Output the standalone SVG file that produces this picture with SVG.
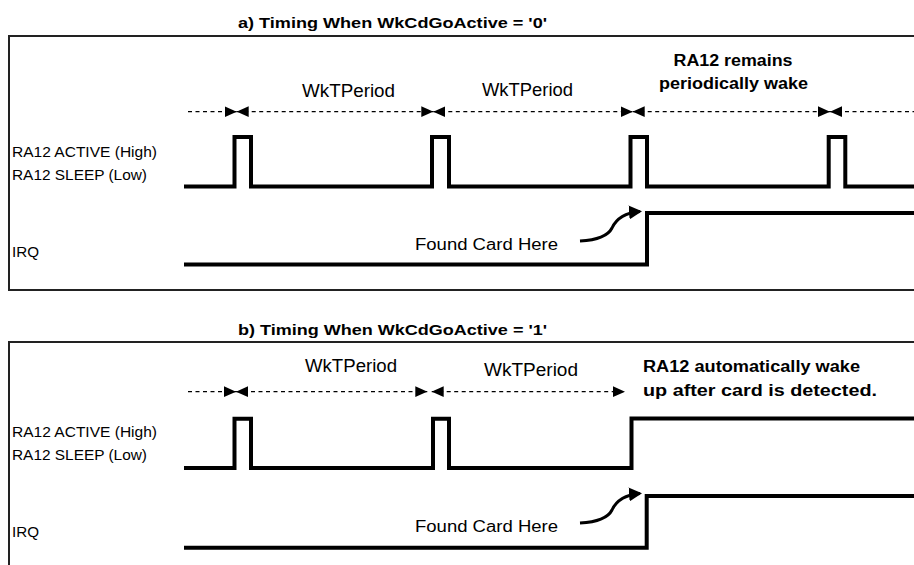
<svg xmlns="http://www.w3.org/2000/svg" width="914" height="565" viewBox="0 0 914 565">
<defs>
<marker id="ah" markerUnits="userSpaceOnUse" markerWidth="12" markerHeight="12" viewBox="0 0 10 10" refX="10" refY="5" orient="auto-start-reverse">
<path d="M0,0.5 L10,5 L0,9.5 Z" fill="#000"/>
</marker>
<marker id="cah" markerUnits="userSpaceOnUse" markerWidth="13" markerHeight="14" viewBox="0 0 13 14" refX="11" refY="7" orient="auto">
<path d="M0,0 L13,7 L0,14 Z" fill="#000"/>
</marker>
<style>
.frame{fill:none;stroke:#222;stroke-width:2}
.wave{fill:none;stroke:#000;stroke-width:4;stroke-linejoin:miter}
.dash{fill:none;stroke:#000;stroke-width:1.3;stroke-dasharray:4 3.5}
.curve{fill:none;stroke:#000;stroke-width:3}
.t{font-family:"Liberation Sans",Arial,sans-serif;fill:#000}
.title{font-size:14px;font-weight:bold}
.lbl{font-size:15px}
.per{font-size:18px}
.note{font-size:16px;font-weight:bold}
.fc{font-size:16px}
</style>
</defs>

<g id="frames">
<path class="frame" d="M914,36 H9 V290 H914"/>
<path class="frame" d="M914,342 H9 V565"/>
</g>

<g id="titles">
<text class="t title" x="238" y="28" textLength="309" lengthAdjust="spacingAndGlyphs">a) Timing When WkCdGoActive = '0'</text>
<text class="t title" x="238" y="335" textLength="309" lengthAdjust="spacingAndGlyphs">b) Timing When WkCdGoActive = '1'</text>
</g>

<g id="labels-a">
<text class="t lbl" x="12" y="157" textLength="145" lengthAdjust="spacingAndGlyphs">RA12 ACTIVE (High)</text>
<text class="t lbl" x="12" y="180" textLength="135" lengthAdjust="spacingAndGlyphs">RA12 SLEEP (Low)</text>
<text class="t lbl" x="12" y="257" textLength="27" lengthAdjust="spacingAndGlyphs">IRQ</text>
</g>
<g id="labels-b">
<text class="t lbl" x="12" y="437" textLength="145" lengthAdjust="spacingAndGlyphs">RA12 ACTIVE (High)</text>
<text class="t lbl" x="12" y="460" textLength="135" lengthAdjust="spacingAndGlyphs">RA12 SLEEP (Low)</text>
<text class="t lbl" x="12" y="537" textLength="27" lengthAdjust="spacingAndGlyphs">IRQ</text>
</g>

<g id="period-labels">
<text class="t per" x="302" y="97" textLength="93" lengthAdjust="spacingAndGlyphs">WkTPeriod</text>
<text class="t per" x="482" y="96" textLength="91" lengthAdjust="spacingAndGlyphs">WkTPeriod</text>
<text class="t per" x="305" y="372" textLength="92" lengthAdjust="spacingAndGlyphs">WkTPeriod</text>
<text class="t per" x="484" y="376" textLength="94" lengthAdjust="spacingAndGlyphs">WkTPeriod</text>
</g>

<g id="notes">
<text class="t note" x="733" y="66" text-anchor="middle" textLength="119" lengthAdjust="spacingAndGlyphs">RA12 remains</text>
<text class="t note" x="733.5" y="89" text-anchor="middle" textLength="149" lengthAdjust="spacingAndGlyphs">periodically wake</text>
<text class="t note" x="643" y="372" textLength="217" lengthAdjust="spacingAndGlyphs">RA12 automatically wake</text>
<text class="t note" x="643" y="396" textLength="234" lengthAdjust="spacingAndGlyphs">up after card is detected.</text>
<text class="t fc" x="415" y="250" textLength="143" lengthAdjust="spacingAndGlyphs">Found Card Here</text>
<text class="t fc" x="415" y="532" textLength="143" lengthAdjust="spacingAndGlyphs">Found Card Here</text>
</g>

<g id="waveforms">
<path id="ra12-a" class="wave" d="M184,186.5 H234.5 V137 H251 V186.5 H432 V137 H449 V186.5 H630.5 V137 H647 V186.5 H828.7 V137 H845.3 V186.5 H914"/>
<path id="irq-a" class="wave" d="M184,264.5 H647 V213 H914"/>
<path id="ra12-b" class="wave" d="M184,468 H234.5 V418.7 H251 V468 H433 V418.7 H449 V468 H631.5 V418.5 H914"/>
<path id="irq-b" class="wave" d="M184,547.7 H646.7 V496 H914"/>
</g>

<g id="connectors">
<line class="dash" x1="188" y1="111.7" x2="236.7" y2="111.7" marker-end="url(#ah)"/>
<line class="dash" x1="236.7" y1="111.7" x2="433.3" y2="111.7" marker-start="url(#ah)" marker-end="url(#ah)"/>
<line class="dash" x1="433.3" y1="111.7" x2="632.7" y2="111.7" marker-start="url(#ah)" marker-end="url(#ah)"/>
<line class="dash" x1="632.7" y1="111.7" x2="830" y2="111.7" marker-start="url(#ah)" marker-end="url(#ah)"/>
<line class="dash" x1="830" y1="111.7" x2="914" y2="111.7" marker-start="url(#ah)"/>

<line class="dash" x1="188" y1="391.7" x2="236" y2="391.7" marker-end="url(#ah)"/>
<line class="dash" x1="236" y1="391.7" x2="427.3" y2="391.7" marker-start="url(#ah)" marker-end="url(#ah)"/>
<line class="dash" x1="431.7" y1="391.7" x2="625" y2="391.7" marker-start="url(#ah)" marker-end="url(#ah)"/>

<path class="curve" d="M580,241 C598,240 608,236 612,228 C617,217 628,212.5 640,211.5" marker-end="url(#cah)"/>
<path class="curve" d="M580,523 C598,522 608,518 612,510 C617,499 628,494.5 640,493.5" marker-end="url(#cah)"/>
</g>
</svg>
